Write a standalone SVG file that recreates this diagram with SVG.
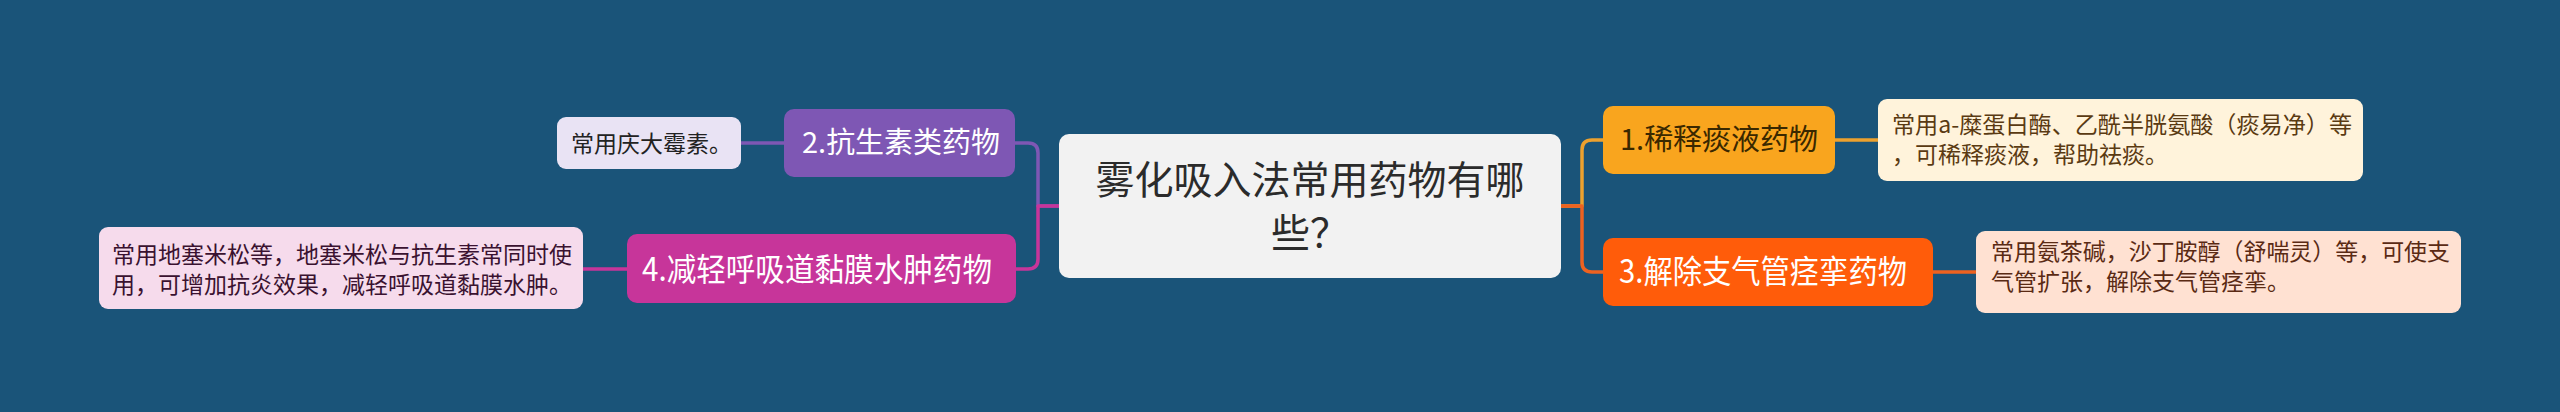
<svg xmlns="http://www.w3.org/2000/svg" width="2560" height="412" viewBox="0 0 2560 412">
<style>
text{font-family:"Noto Sans CJK SC","Noto Sans",sans-serif}
.c{fill:none;stroke-width:3.5;stroke-linecap:round;stroke-linejoin:round}
.t{font-size:29px}
.n{font-size:23px}
</style>
<rect width="2560" height="412" fill="#1A5479"/>
<g id="connectors">
<path class="c" stroke="#EDA12E" d="M1561,206 H1582 V150 Q1582,140 1592,140 H1603"/>
<path class="c" stroke="#EE6220" d="M1561,206 H1582 V262 Q1582,272 1592,272 H1603"/>
<path class="c" stroke="#EDA12E" d="M1835,140 H1878"/>
<path class="c" stroke="#EE6220" d="M1933,272 H1976"/>
<path class="c" stroke="#7E57B4" d="M1059,206 H1038 V153 Q1038,143 1028,143 H1015"/>
<path class="c" stroke="#C7359A" d="M1059,206 H1038 V259 Q1038,269 1028,269 H1016"/>
<path class="c" stroke="#7E57B4" d="M784,143 H741"/>
<path class="c" stroke="#C7359A" d="M627,269 H583"/>
</g>
<g id="center">
<rect x="1059" y="134" width="502" height="144" rx="10" fill="#F2F2F2"/>
<text x="1310" y="194" font-size="39" text-anchor="middle" fill="#2B2B2B">雾化吸入法常用药物有哪</text>
<text x="1310" y="247" font-size="39" text-anchor="middle" fill="#2B2B2B">些？</text>
</g>
<g id="node1">
<rect x="1603" y="106" width="232" height="68" rx="10" fill="#F9A51E"/>
<text class="t" x="1620" y="150" textLength="198" lengthAdjust="spacingAndGlyphs" fill="#3A2800">1.稀释痰液药物</text>
</g>
<g id="note1">
<rect x="1878" y="99" width="485" height="82" rx="9" fill="#FFF3DB"/>
<text class="n" x="1892" y="133" textLength="460" lengthAdjust="spacingAndGlyphs" fill="#5A3A12">常用a-糜蛋白酶、乙酰半胱氨酸（痰易净）等</text>
<text class="n" x="1892" y="163" fill="#5A3A12">，可稀释痰液，帮助祛痰。</text>
</g>
<g id="node3">
<rect x="1603" y="238" width="330" height="68" rx="10" fill="#FF5C0A"/>
<text x="1619" y="283" font-size="32" textLength="288" lengthAdjust="spacingAndGlyphs" fill="#FFFFFF">3.解除支气管痉挛药物</text>
</g>
<g id="note3">
<rect x="1976" y="231" width="485" height="82" rx="9" fill="#FFE1D2"/>
<text class="n" x="1991" y="260" textLength="459" lengthAdjust="spacingAndGlyphs" fill="#5A2A14">常用氨茶碱，沙丁胺醇（舒喘灵）等，可使支</text>
<text class="n" x="1991" y="290" fill="#5A2A14">气管扩张，解除支气管痉挛。</text>
</g>
<g id="node2">
<rect x="784" y="109" width="231" height="68" rx="10" fill="#7E57B4"/>
<text class="t" x="802" y="153" textLength="198" lengthAdjust="spacingAndGlyphs" fill="#FFFFFF">2.抗生素类药物</text>
</g>
<g id="note2">
<rect x="557" y="117" width="184" height="52" rx="9" fill="#E9E3F4"/>
<text class="n" x="571" y="152" fill="#222222">常用庆大霉素。</text>
</g>
<g id="node4">
<rect x="627" y="234" width="389" height="69" rx="10" fill="#C7359A"/>
<text x="642" y="281" font-size="32" textLength="350" lengthAdjust="spacingAndGlyphs" fill="#FFFFFF">4.减轻呼吸道黏膜水肿药物</text>
</g>
<g id="note4">
<rect x="99" y="227" width="484" height="82" rx="9" fill="#F6DBEC"/>
<text class="n" x="112" y="263" textLength="460" lengthAdjust="spacingAndGlyphs" fill="#3A1230">常用地塞米松等，地塞米松与抗生素常同时使</text>
<text class="n" x="112" y="293" fill="#3A1230">用，可增加抗炎效果，减轻呼吸道黏膜水肿。</text>
</g>
</svg>
